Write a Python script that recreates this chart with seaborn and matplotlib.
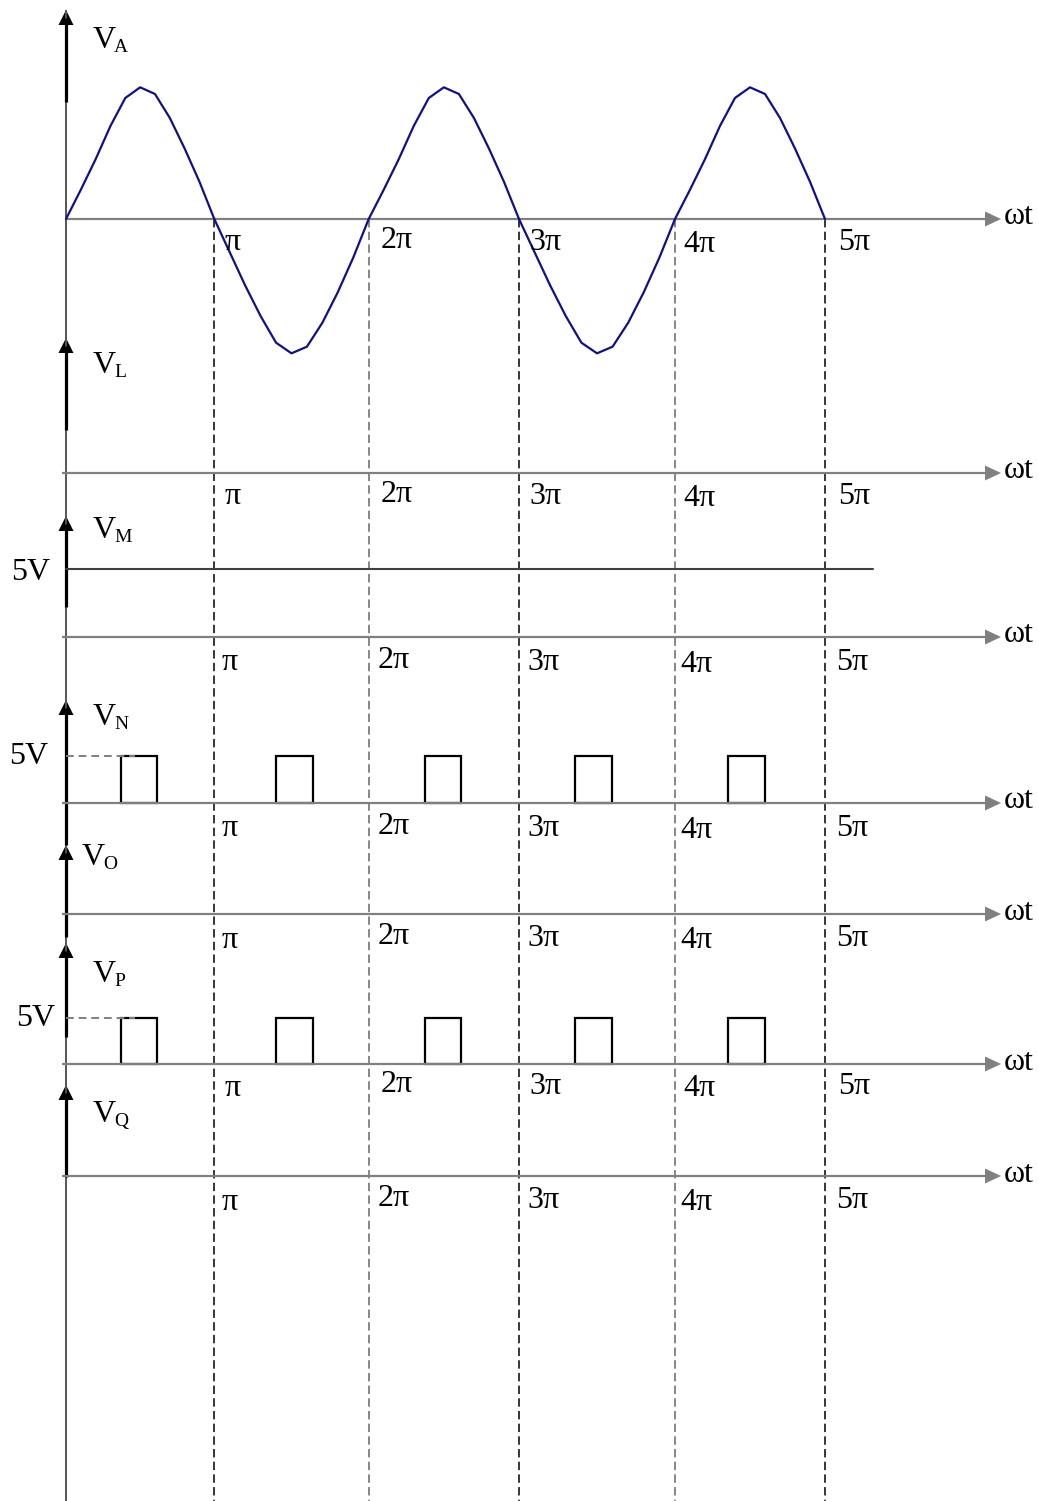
import numpy as np
import pandas as pd
import matplotlib
matplotlib.use("Agg")
import matplotlib.pyplot as plt
from matplotlib.patches import Polygon, Rectangle
import seaborn as sns

# ---------------------------------------------------------------- data
# time axis is measured in multiples of pi
tick_positions = [1, 2, 3, 4, 5]
tick_labels = ["π", "2π", "3π", "4π", "5π"]

# V_A : input sine, sampled every 0.1π (relative amplitude)
va_time = [round(0.1 * i, 1) for i in range(51)]
va_values = [
    0.00, 0.22, 0.45, 0.70, 0.91, 0.99, 0.94, 0.76, 0.53, 0.28,
    0.00, -0.25, -0.50, -0.73, -0.93, -1.01, -0.96, -0.78, -0.55, -0.29,
    0.00, 0.22, 0.45, 0.70, 0.91, 0.99, 0.94, 0.76, 0.53, 0.28,
    0.00, -0.25, -0.50, -0.73, -0.93, -1.01, -0.96, -0.78, -0.55, -0.29,
    0.00, 0.22, 0.45, 0.70, 0.91, 0.99, 0.94, 0.76, 0.53, 0.28,
    0.00,
]

# V_M : constant 5 V level
vm_time = [0.0, 5.32]
vm_values = [5.0, 5.0]

# V_N and V_P : 5 V pulses around each peak / trough
pulse_start = [0.37, 1.40, 2.375, 3.36, 4.353]
pulse_end = [0.614, 1.64, 2.614, 3.595, 4.60]
pulse_level = 5.0

channels = ["A", "L", "M", "N", "O", "P", "Q"]

# ---------------------------------------------------------------- layout
W, H = 1039, 1501
# hand-drawn time axis: pixel column of 0, π, 2π, ... 5π
axis_px = np.array([66.0, 214.3, 368.7, 519.0, 675.0, 825.0])
axis_pi = np.arange(6, dtype=float)
SLOPE_LO = axis_px[1] - axis_px[0]
SLOPE_HI = axis_px[-1] - axis_px[-2]


def to_px(x):
    x = np.asarray(x, dtype=float)
    out = np.interp(x, axis_pi, axis_px)
    out = np.where(x < 0, axis_px[0] + x * SLOPE_LO, out)
    out = np.where(x > 5, axis_px[-1] + (x - 5) * SLOPE_HI, out)
    return out


def from_px(p):
    p = np.asarray(p, dtype=float)
    out = np.interp(p, axis_px, axis_pi)
    out = np.where(p < axis_px[0], (p - axis_px[0]) / SLOPE_LO, out)
    out = np.where(p > axis_px[-1], 5 + (p - axis_px[-1]) / SLOPE_HI, out)
    return out


def px2x(p):
    return float(from_px(p))


baseline = dict(A=219, L=473, M=637, N=803, O=914, P=1064, Q=1176)
arrow_top = dict(A=10, L=338, M=516, N=700, O=845, P=943, Q=1085)
bold_end = dict(A=102, L=430, M=607, N=845, O=937, P=1037, Q=1177)
name_x = dict(A=93, L=93, M=93, N=93, O=82, P=93, Q=93)
name_base = dict(A=48, L=373, M=538, N=725, O=865, P=982, Q=1122)
scale = dict(A=133.0, M=68 / 5, N=47 / 5, P=46 / 5)

sns.set_style("white")
plt.rcParams["font.family"] = ["Liberation Serif", "DejaVu Serif"]
plt.rcParams["text.color"] = "black"

fig = plt.figure(figsize=(W / 100, H / 100), dpi=100)
ax = fig.add_axes([0, 0, 1, 1])
ax.set_xscale("function", functions=(to_px, from_px))
ax.set_xlim(px2x(0), px2x(W))
ax.set_ylim(H, 0)
ax.axis("off")

grey = "#808080"
FS = 23

# left vertical axis
ax.plot([0, 0], [10, H], color="#555555", lw=1.4, solid_capstyle="butt")
for c in channels:
    ax.plot([0, 0], [arrow_top[c] + 8, bold_end[c]], color="black", lw=2.3,
            solid_capstyle="butt")
    t = arrow_top[c]
    ax.add_patch(Polygon([(px2x(66), t), (px2x(58.5), t + 15), (px2x(73.5), t + 15)],
                         closed=True, color="black", lw=0))

# dashed time markers
marker_colors = ["black", "#666666", "black", "#666666", "black"]
for k, col in zip(tick_positions, marker_colors):
    ax.plot([k, k], [baseline["A"], H], color=col, lw=1.1, ls=(0, (5.5, 2.8)))

# horizontal omega-t axes with arrowheads and tick labels
label_dx_a = [225, 381, 529, 683, 838]
label_dy_a = [24, 21, 23, 25, 23]
label_dx_b = [222, 378, 527, 680, 836]
label_dy_b = [26, 23, 25, 27, 25]
for c in channels:
    b = baseline[c]
    start = 66 if c == "A" else 62
    ax.plot([px2x(start), px2x(987)], [b, b], color=grey, lw=1.6,
            solid_capstyle="butt")
    ax.add_patch(Polygon([(px2x(985), b - 7.5), (px2x(1001), b), (px2x(985), b + 7.5)],
                         closed=True, color=grey, lw=0))
    ax.text(px2x(1004), b - 2, "ωt", fontsize=FS, va="center", ha="left")
    if c in ("A", "L", "P"):
        xs, dys = label_dx_a, label_dy_a
    else:
        xs, dys = label_dx_b, label_dy_b
    for lab, xp, dy in zip(tick_labels, xs, dys):
        ax.text(px2x(xp), b + dy, lab, fontsize=FS, va="center", ha="left")

# channel names V_x
for c in channels:
    ax.text(px2x(name_x[c]), name_base[c], "V", fontsize=23, va="baseline", ha="left")
    ax.text(px2x(name_x[c] + 21), name_base[c] + 4, c, fontsize=14,
            va="baseline", ha="left")

# V_A sine
df_a = pd.DataFrame({"t": va_time,
                     "y": [baseline["A"] - scale["A"] * v for v in va_values]})
sns.lineplot(data=df_a, x="t", y="y", ax=ax, color="#10108a", lw=1.6,
             sort=False, estimator=None)

# V_M constant level
df_m = pd.DataFrame({"t": vm_time,
                     "y": [baseline["M"] - scale["M"] * v for v in vm_values]})
sns.lineplot(data=df_m, x="t", y="y", ax=ax, color="#404040", lw=1.5,
             sort=False, estimator=None)
ax.text(px2x(11), baseline["M"] - scale["M"] * vm_values[0] + 4, "5V",
        fontsize=FS, va="center", ha="left")

# V_N and V_P pulse trains
for c, lab_x in (("N", 9), ("P", 16)):
    b = baseline[c]
    top = b - scale[c] * pulse_level
    ax.plot([0, px2x(135)], [top, top], color=grey, lw=1.4, ls=(0, (4, 2.5)))
    for s, e in zip(pulse_start, pulse_end):
        ax.add_patch(Rectangle((s, top), e - s, b - top, fill=False,
                               edgecolor="black", lw=1.6))
    ax.text(px2x(lab_x), top + 1, "5V", fontsize=FS, va="center", ha="left")

fig.savefig("out.png", dpi=100)
